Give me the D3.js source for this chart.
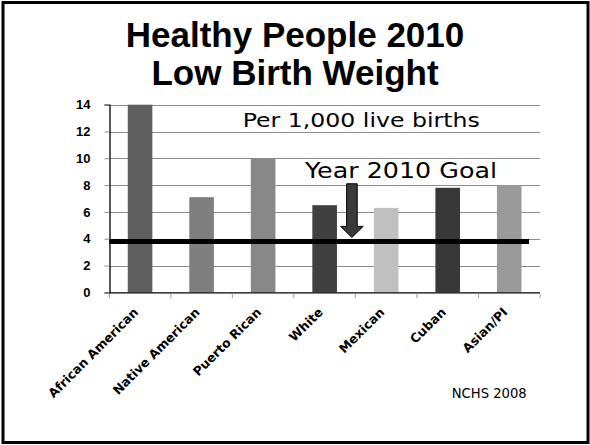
<!DOCTYPE html>
<html>
<head>
<meta charset="utf-8">
<script src="https://cdn.jsdelivr.net/npm/d3@7"></script>
<style>
  body { margin: 0; background: #fff; }
  svg { display: block; }
</style>
</head>
<body>
<svg id="chart"></svg>
<script>
var groups = ["African American", "Native American", "Puerto Rican", "White", "Mexican", "Cuban", "Asian/PI"];
var rates = [14, 7.1, 10, 6.5, 6.3, 7.8, 8];
var barColors = ["#5f5f5f", "#7f7f7f", "#888888", "#404040", "#c0c0c0", "#383838", "#9a9a9a"];
var yTicks = [0, 2, 4, 6, 8, 10, 12, 14];
var goal = 3.8;

var width = 590, height = 445;

var svg = d3.select("#chart")
	.attr("width", width)
	.attr("height", height);

// slide frame
svg.append("rect")
	.attr("x", 3)
	.attr("y", 2.5)
	.attr("width", 585)
	.attr("height", 440)
	.attr("fill", "none")
	.attr("stroke", "#000")
	.attr("stroke-width", 3);

// title
var title = svg.append("text")
	.attr("text-anchor", "middle")
	.style("font-family", "'Liberation Sans', Arial, sans-serif")
	.style("font-weight", "bold")
	.style("font-size", "35px");
title.append("tspan").attr("x", 295).attr("y", 46.5).text("Healthy People 2010");
title.append("tspan").attr("x", 295).attr("y", 85).text("Low Birth Weight");

var xScale = d3.scaleBand()
	.domain(groups)
	.range([109.3, 540])
	.paddingInner(0.6)
	.paddingOuter(0.3);

var yScale = d3.scaleLinear()
	.domain([0, 14])
	.range([292.3, 104.7]);

var step = xScale.step();
var bandLeft = function (d) { return xScale(d) - xScale.paddingInner() * step / 2; };

// gridlines
svg.append("g")
	.selectAll("line")
	.data(yTicks.slice(1))
	.enter().append("line")
	.attr("x1", 109.3)
	.attr("x2", 540)
	.attr("y1", function (d) { return Math.round(yScale(d)) + 0.5; })
	.attr("y2", function (d) { return Math.round(yScale(d)) + 0.5; })
	.attr("stroke", "#8c8c8c")
	.attr("stroke-width", 1);

// bars
svg.append("g")
	.selectAll("rect")
	.data(groups)
	.enter().append("rect")
	.attr("x", function (d) { return xScale(d); })
	.attr("y", function (d, i) { return yScale(rates[i]); })
	.attr("width", xScale.bandwidth())
	.attr("height", function (d, i) { return yScale(0) - yScale(rates[i]); })
	.attr("fill", function (d, i) { return barColors[i]; });

// goal line
svg.append("line")
	.attr("x1", 109.3)
	.attr("x2", 529)
	.attr("y1", yScale(goal))
	.attr("y2", yScale(goal))
	.attr("stroke", "#000")
	.attr("stroke-width", 5);

// axis-y
var yAxis = svg.append("g")
	.attr("transform", "translate(109.5,0)")
	.call(d3.axisLeft(yScale).tickValues(yTicks).tickSize(5).tickPadding(14));
yAxis.select(".domain").attr("stroke", "#000").attr("stroke-width", 1.3);
yAxis.selectAll(".tick line").attr("stroke", "#8c8c8c");
yAxis.selectAll(".tick text")
	.style("font-family", "'Liberation Sans', Arial, sans-serif")
	.style("font-weight", "bold")
	.style("font-size", "13px")
	.attr("fill", "#000");

// axis-x
var boundaries = groups.map(bandLeft).concat([540]);
svg.append("line")
	.attr("x1", 109.3)
	.attr("x2", 540)
	.attr("y1", 292.8)
	.attr("y2", 292.8)
	.attr("stroke", "#000")
	.attr("stroke-width", 1.3);
svg.append("g")
	.selectAll("line")
	.data(boundaries)
	.enter().append("line")
	.attr("x1", function (d) { return d; })
	.attr("x2", function (d) { return d; })
	.attr("y1", 293.5)
	.attr("y2", 298)
	.attr("stroke", "#9a9a9a");

svg.append("g")
	.selectAll("text")
	.data(groups)
	.enter().append("text")
	.attr("transform", function (d) {
		var cx = xScale(d) + xScale.bandwidth() / 2 - 1;
		return "translate(" + cx + ",313) rotate(-45)";
	})
	.attr("text-anchor", "end")
	.style("font-family", "'DejaVu Sans', sans-serif")
	.style("font-weight", "bold")
	.style("font-size", "12.5px")
	.attr("fill", "#000")
	.text(function (d) { return d; });

// annotations
svg.append("text")
	.attr("x", 242.7)
	.attr("y", 127.3)
	.attr("textLength", 237)
	.attr("lengthAdjust", "spacingAndGlyphs")
	.style("font-family", "'DejaVu Sans', Verdana, sans-serif")
	.style("font-size", "20px")
	.text("Per 1,000 live births");

svg.append("text")
	.attr("x", 305)
	.attr("y", 178.3)
	.attr("textLength", 192)
	.attr("lengthAdjust", "spacingAndGlyphs")
	.style("font-family", "'DejaVu Sans', Verdana, sans-serif")
	.style("font-size", "22px")
	.text("Year 2010 Goal");

// arrow pointing at the goal line
var ax = bandLeft("Mexican") - 3.5;
var aTop = yScale(8.1), aTip = yScale(goal) - 4, aNeck = aTip - 11;
var arrowPts = [
	[ax - 5.3, aTop], [ax + 5.3, aTop], [ax + 5.3, aNeck], [ax + 11.3, aNeck],
	[ax, aTip], [ax - 11.3, aNeck], [ax - 5.3, aNeck]
];
svg.append("path")
	.attr("d", d3.line()(arrowPts) + "Z")
	.attr("fill", "#3a3a3a")
	.attr("stroke", "#000")
	.attr("stroke-width", 1);

svg.append("text")
	.attr("x", 451.7)
	.attr("y", 398.3)
	.attr("textLength", 75)
	.attr("lengthAdjust", "spacingAndGlyphs")
	.style("font-family", "'DejaVu Sans', Verdana, sans-serif")
	.style("font-size", "14px")
	.text("NCHS 2008");
</script>
</body>
</html>
